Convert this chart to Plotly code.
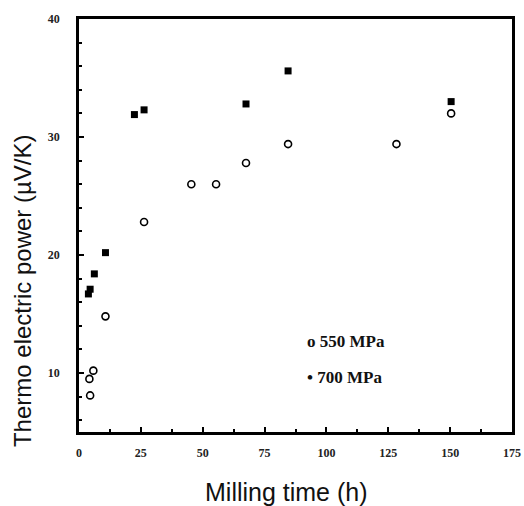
import plotly.graph_objects as go

# 550 MPa (open circles)
t_550 = [4.2, 4.5, 5.8, 10.7, 26.3, 45.4, 55.4, 67.5, 84.5, 128.3, 150.4]
s_550 = [9.5, 8.1, 10.2, 14.8, 22.8, 26.0, 26.0, 27.8, 29.4, 29.4, 32.0]

# 700 MPa (filled squares)
t_700 = [3.8, 4.5, 6.2, 10.7, 22.4, 26.3, 67.5, 84.5, 150.4]
s_700 = [16.7, 17.1, 18.4, 20.2, 31.9, 32.3, 32.8, 35.6, 33.0]

x_ticks = [0, 25, 50, 75, 100, 125, 150, 175]
y_ticks = [10, 20, 30, 40]

legend_labels = ["o 550 MPa", "• 700 MPa"]

serif = "Liberation Serif"
sans = "Liberation Sans"

fig = go.Figure()
fig.add_trace(go.Scatter(
    x=t_550, y=s_550, mode="markers", name="550 MPa",
    marker=dict(symbol="circle-open", size=7, color="black", line=dict(width=1.6, color="black")),
))
fig.add_trace(go.Scatter(
    x=t_700, y=s_700, mode="markers", name="700 MPa",
    marker=dict(symbol="square", size=7, color="black", line=dict(width=0)),
))

axis_common = dict(
    showline=True, linecolor="black", linewidth=2.5, mirror=True,
    ticks="inside", ticklen=5, tickwidth=2, tickcolor="black",
    showgrid=False, zeroline=False, automargin=False,
    tickfont=dict(family=serif, size=12, color="#222", weight="bold"),
)

fig.update_layout(
    width=524, height=506,
    margin=dict(l=79, r=12, t=19, b=74),
    paper_bgcolor="white", plot_bgcolor="white",
    showlegend=False,
    xaxis=dict(
        range=[0, 175], tickvals=x_ticks, ticktext=[str(v) for v in x_ticks],
        minor=dict(dtick=12.5, tick0=0, ticks="inside", ticklen=3, tickwidth=1.5, tickcolor="black"),
        ticklabelstandoff=8,
        **axis_common,
    ),
    yaxis=dict(
        range=[5, 40], tickvals=y_ticks, ticktext=[str(v) for v in y_ticks],
        minor=dict(dtick=2, tick0=0, ticks="inside", ticklen=3, tickwidth=1.5, tickcolor="black"),
        ticklabelstandoff=14,
        **axis_common,
    ),
)

# axis titles
fig.add_annotation(text="Milling time (h)", xref="paper", yref="paper",
                   x=0.48, y=-0.145, xanchor="center", yanchor="middle", showarrow=False,
                   font=dict(family=sans, size=25, color="#111"))
fig.add_annotation(text="Thermo electric power (µV/K)", xref="paper", yref="paper",
                   x=-0.130, y=0.343, xanchor="center", yanchor="middle", showarrow=False,
                   textangle=-90, font=dict(family=sans, size=24, color="#111"))

# legend text
for i, lab in enumerate(legend_labels):
    fig.add_annotation(text=lab, xref="paper", yref="paper",
                       x=0.522, y=0.220 - i * 0.087, xanchor="left", yanchor="middle",
                       showarrow=False,
                       font=dict(family=serif, size=17, color="#111", weight="bold"))

fig.write_html(
    "out.html",
    config={"displayModeBar": False},
    post_script="document.body.style.margin='0';document.body.style.overflow='hidden';",
)
